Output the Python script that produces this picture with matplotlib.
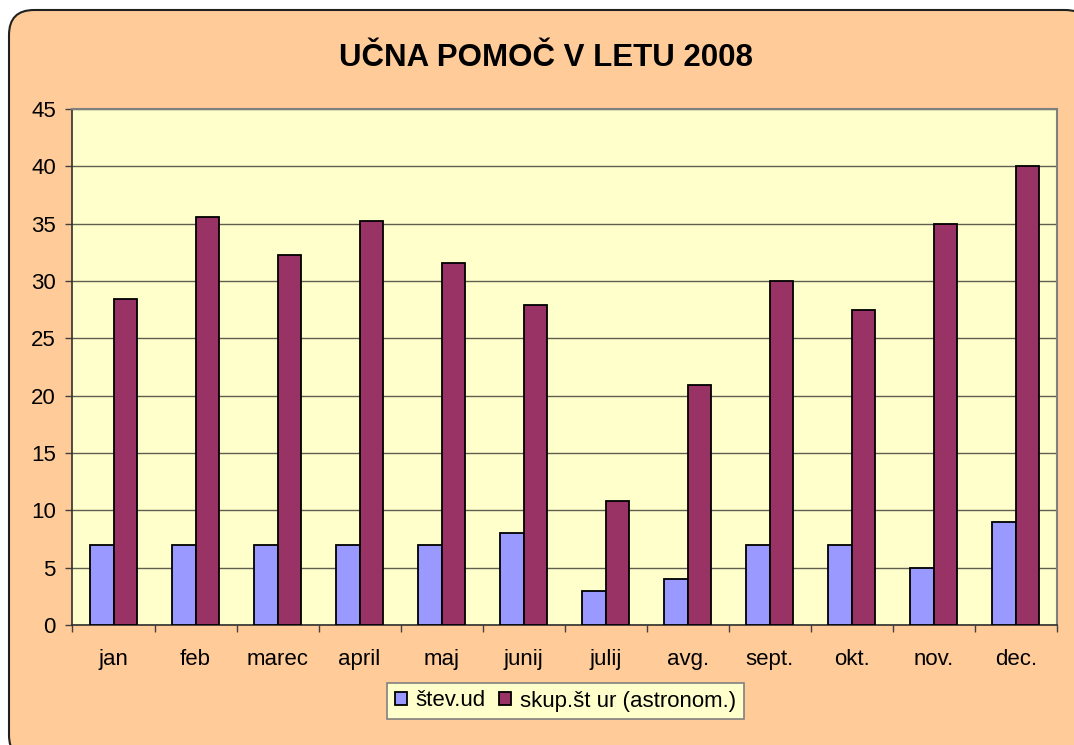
import numpy as np
import matplotlib
matplotlib.use('Agg')
import matplotlib.pyplot as plt
from matplotlib.patches import FancyBboxPatch
from matplotlib.transforms import IdentityTransform

months = ['jan', 'feb', 'marec', 'april', 'maj', 'junij', 'julij', 'avg.',
          'sept.', 'okt.', 'nov.', 'dec.']
stev_ud = [7, 7, 7, 7, 7, 8, 3, 4, 7, 7, 5, 9]
skup_ur = [28.4, 35.6, 32.3, 35.2, 31.6, 27.9, 10.8, 20.9, 30.0, 27.5, 35.0, 40.0]

plt.rcParams['font.family'] = ['Liberation Sans', 'DejaVu Sans']

fig = plt.figure(figsize=(10.74, 7.45), dpi=100, facecolor='white')

# rounded outer frame (pixel coords)
frame = FancyBboxPatch((9, -15), 1081, 750,
                       boxstyle='round,pad=0,rounding_size=25',
                       transform=IdentityTransform(),
                       facecolor='#FFCC99', edgecolor='#202020',
                       linewidth=1.5, zorder=-1)
fig.patches.append(frame)

ax = fig.add_axes([0.0675, 0.161, 0.9165, 0.6927])
ax.set_facecolor('#FFFFCC')

x = np.arange(len(months))
w = 0.285
ax.bar(x - w/2, stev_ud, w, color='#9999FF', edgecolor='black', linewidth=1.3,
       label='štev.ud', zorder=3)
ax.bar(x + w/2, skup_ur, w, color='#993366', edgecolor='black', linewidth=1.3,
       label='skup.št ur (astronom.)', zorder=3)

ax.set_xlim(-0.5, 11.5)
ax.set_ylim(0, 45)
ax.set_yticks(range(0, 46, 5))
ax.set_xticks(x)
ax.set_xticklabels(months)
ax.set_xticks(np.arange(-0.5, 12, 1), minor=True)
ax.tick_params(axis='x', which='major', length=0, pad=17, labelsize=16)
ax.tick_params(axis='x', which='minor', length=5, width=1, color='#404040')
ax.tick_params(axis='y', length=5, width=1, color='#404040', pad=7, labelsize=16)

ax.grid(axis='y', color='#606050', linewidth=1, zorder=1)
ax.set_axisbelow(True)

for s in ['left', 'bottom']:
    ax.spines[s].set_color('#303030')
    ax.spines[s].set_linewidth(1.2)
for s in ['top', 'right']:
    ax.spines[s].set_color('#808080')
    ax.spines[s].set_linewidth(1.5)

fig.text(0.5085, 0.922, 'UČNA POMOČ V LETU 2008', ha='center', va='center',
         fontsize=22.5, fontweight='bold')

leg = fig.legend(loc='center', bbox_to_anchor=(565.5/1074, 1 - 701/745), ncol=2,
                 fontsize=16, frameon=True, fancybox=False,
                 handlelength=0.55, handleheight=0.55, handletextpad=0.4,
                 columnspacing=0.6, borderpad=0.35)
leg.get_frame().set_facecolor('#FFFFCC')
leg.get_frame().set_edgecolor('#808080')
leg.get_frame().set_linewidth(1.2)
leg.get_frame().set_alpha(1)

fig.savefig('out.png', dpi=100, facecolor=fig.get_facecolor())
